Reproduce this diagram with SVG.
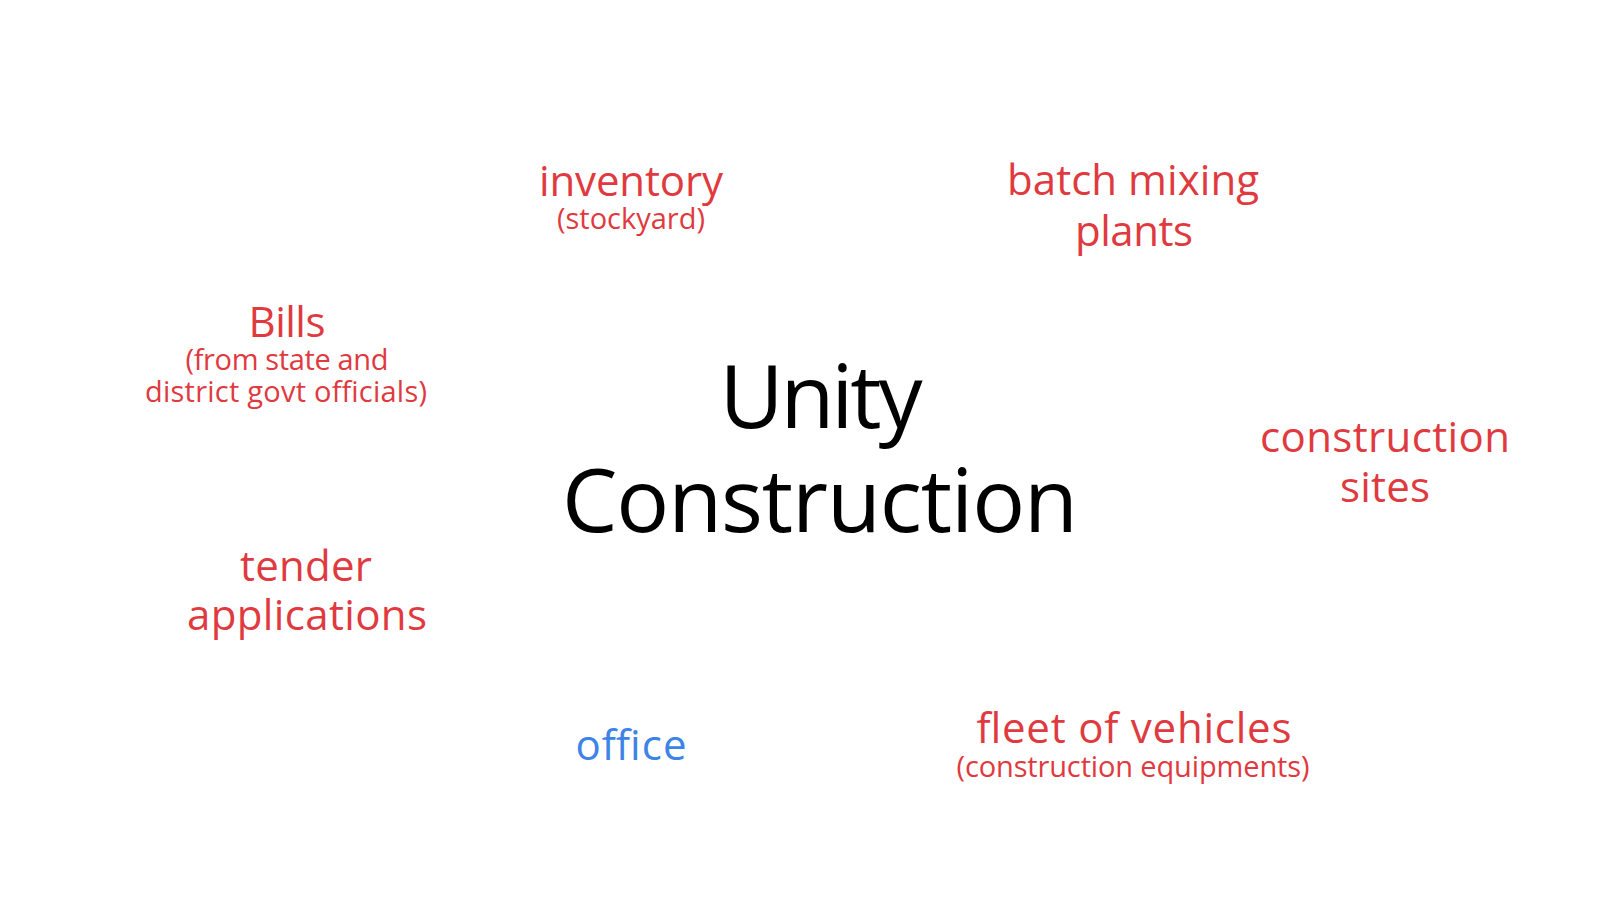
<svg xmlns="http://www.w3.org/2000/svg" width="1623" height="912" viewBox="0 0 1623 912">
<style>
text { font-family: "Open Sans", "Noto Sans", "Liberation Sans", sans-serif; text-anchor: middle; }
.main { font-size: 88px; fill: #000000; }
.lbl { font-size: 42px; fill: #DF3A40; }
.sub { font-size: 29px; fill: #DF3A40; }
.blue { font-size: 42px; fill: #3D84E6; }
</style>
<rect width="1623" height="912" fill="#ffffff"/>
<g id="unity-construction">
<text class="main" x="821" y="428" textLength="203" lengthAdjust="spacing">Unity</text>
<text class="main" x="820" y="532" textLength="516" lengthAdjust="spacing">Construction</text>
</g>
<g id="inventory">
<text class="lbl" x="631" y="196" textLength="184" lengthAdjust="spacing">inventory</text>
<text class="sub" x="631" y="229" textLength="148" lengthAdjust="spacing">(stockyard)</text>
</g>
<g id="batch-mixing-plants">
<text class="lbl" x="1133" y="195" textLength="252" lengthAdjust="spacing">batch mixing</text>
<text class="lbl" x="1134" y="246" textLength="118" lengthAdjust="spacing">plants</text>
</g>
<g id="bills">
<text class="lbl" x="287" y="337" textLength="77" lengthAdjust="spacing">Bills</text>
<text class="sub" x="287" y="370" textLength="203" lengthAdjust="spacing">(from state and</text>
<text class="sub" x="286" y="402" textLength="282" lengthAdjust="spacing">district govt officials)</text>
</g>
<g id="tender-applications">
<text class="lbl" x="306" y="581" textLength="132" lengthAdjust="spacing">tender</text>
<text class="lbl" x="307" y="630" textLength="240" lengthAdjust="spacing">applications</text>
</g>
<g id="construction-sites">
<text class="lbl" x="1385" y="452" textLength="250" lengthAdjust="spacing">construction</text>
<text class="lbl" x="1385" y="502" textLength="90" lengthAdjust="spacing">sites</text>
</g>
<g id="office">
<text class="blue" x="631" y="760" textLength="111" lengthAdjust="spacing">office</text>
</g>
<g id="fleet-of-vehicles">
<text class="lbl" x="1134" y="743" textLength="315" lengthAdjust="spacing">fleet of vehicles</text>
<text class="sub" x="1133" y="777" textLength="353" lengthAdjust="spacing">(construction equipments)</text>
</g>
</svg>
